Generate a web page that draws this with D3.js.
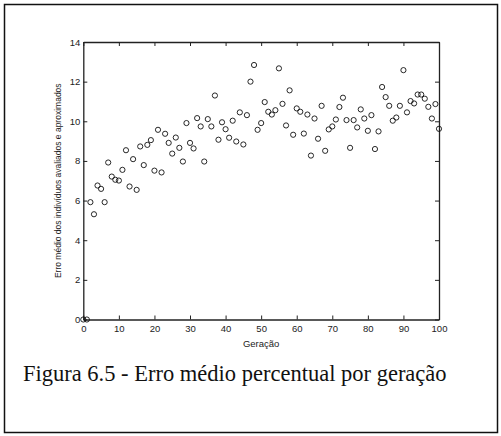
<!DOCTYPE html>
<html>
<head>
<meta charset="utf-8">
<script src="https://cdn.jsdelivr.net/npm/d3@7"></script>
<style>
  body { margin: 0; background: #fff; }
  svg { display: block; }
</style>
</head>
<body>
<div id="chart"></div>
<script>
// generations on x, mean error on y
var generations = d3.range(0, 101);
var meanError = [
  0, 0, 5.92, 5.31, 6.76, 6.59, 5.92, 7.92, 7.21, 7.05,
  7.01, 7.55, 8.54, 6.71, 8.09, 6.54, 8.73, 7.79, 8.81, 9.05,
  7.51, 9.57, 7.42, 9.37, 8.91, 8.37, 9.18, 8.66, 7.97, 9.91,
  8.91, 8.63, 10.16, 9.74, 7.97, 10.11, 9.74, 11.3, 9.07, 9.95,
  9.6, 9.17, 10.03, 8.98, 10.45, 8.83, 10.31, 12.0, 12.84, 9.57,
  9.91, 10.97, 10.48, 10.34, 10.56, 12.67, 10.88, 9.79, 11.56, 9.32,
  10.65, 10.48, 9.38, 10.34, 8.27, 10.14, 9.12, 10.78, 8.51, 9.59,
  9.74, 10.09, 10.72, 11.19, 10.06, 8.66, 10.06, 9.69, 10.6, 10.14,
  9.52, 10.31, 8.6, 9.49, 11.73, 11.22, 10.78, 10.03, 10.19, 10.78,
  12.58, 10.45, 11.02, 10.9, 11.35, 11.35, 11.14, 10.73, 10.14, 10.87,
  9.62
];
var xTicks = [0, 10, 20, 30, 40, 50, 60, 70, 80, 90, 100];
var yTicks = [0, 2, 4, 6, 8, 10, 12, 14];
var xTitle = "Geração";
var yTitle = "Erro médio dos indivíduos avaliados e aproximados";
var caption = "Figura 6.5 - Erro médio percentual por geração";

var width = 501, height = 436;
// plot box edges (window.top is taken, so prefix them)
var plotLeft = 83.3, plotRight = 439, plotTop = 42, plotBottom = 319.5;

var svg = d3.select("#chart").append("svg")
  .attr("width", width)
  .attr("height", height);

// outer frame around figure + caption
svg.append("rect")
  .attr("x", 4.5).attr("y", 4.5)
  .attr("width", 493).attr("height", 428)
  .attr("fill", "none")
  .attr("stroke", "#111")
  .attr("stroke-width", 1.5);

var x = d3.scaleLinear().domain([0, 100]).range([plotLeft, plotRight]);
var y = d3.scaleLinear().domain([0, 14]).range([plotBottom, plotTop]);

var tickFont = "Liberation Sans, Arial, sans-serif";

// axes, matlab style: ticks point inward on all four sides
var gx = svg.append("g")
  .attr("transform", "translate(0," + plotBottom + ")")
  .call(d3.axisBottom(x).tickValues(xTicks).tickSizeInner(-4).tickSizeOuter(0).tickPadding(6));
var gy = svg.append("g")
  .attr("transform", "translate(" + plotLeft + ",0)")
  .call(d3.axisLeft(y).tickValues(yTicks).tickSizeInner(-4).tickSizeOuter(0).tickPadding(3));
var gt = svg.append("g")
  .attr("transform", "translate(0," + plotTop + ")")
  .call(d3.axisTop(x).tickValues(xTicks).tickSizeInner(-4).tickSizeOuter(0).tickFormat(""));
var gr = svg.append("g")
  .attr("transform", "translate(" + plotRight + ",0)")
  .call(d3.axisRight(y).tickValues(yTicks).tickSizeInner(-4).tickSizeOuter(0).tickFormat(""));

[gx, gy, gt, gr].forEach(function(g) {
  g.select(".domain").attr("stroke", "#222").attr("stroke-width", 1.3);
  g.selectAll(".tick line").attr("stroke", "#222").attr("stroke-width", 1);
  g.selectAll(".tick text")
    .attr("fill", "#222")
    .style("font-family", tickFont)
    .style("font-size", "9.5px");
});

// axis titles
svg.append("text")
  .attr("x", (plotLeft + plotRight) / 2)
  .attr("y", 347)
  .attr("text-anchor", "middle")
  .style("font-family", tickFont)
  .style("font-size", "9.5px")
  .attr("fill", "#222")
  .text(xTitle);

svg.append("text")
  .attr("transform", "translate(60.5," + (plotTop + plotBottom) / 2 + ") rotate(-90)")
  .attr("text-anchor", "middle")
  .style("font-family", tickFont)
  .style("font-size", "8.5px")
  .attr("fill", "#222")
  .text(yTitle);

// the points
svg.append("g")
  .selectAll("circle")
  .data(generations)
  .enter().append("circle")
    .attr("cx", function(g) { return x(g); })
    .attr("cy", function(g, i) { return y(meanError[i]); })
    .attr("r", 2.6)
    .attr("fill", "none")
    .attr("stroke", "#111")
    .attr("stroke-width", 0.9);

// caption
svg.append("text")
  .attr("x", 23)
  .attr("y", 381)
  .style("font-family", "Liberation Serif, Times New Roman, serif")
  .style("font-size", "22.5px")
  .attr("fill", "#111")
  .text(caption);
</script>
</body>
</html>
